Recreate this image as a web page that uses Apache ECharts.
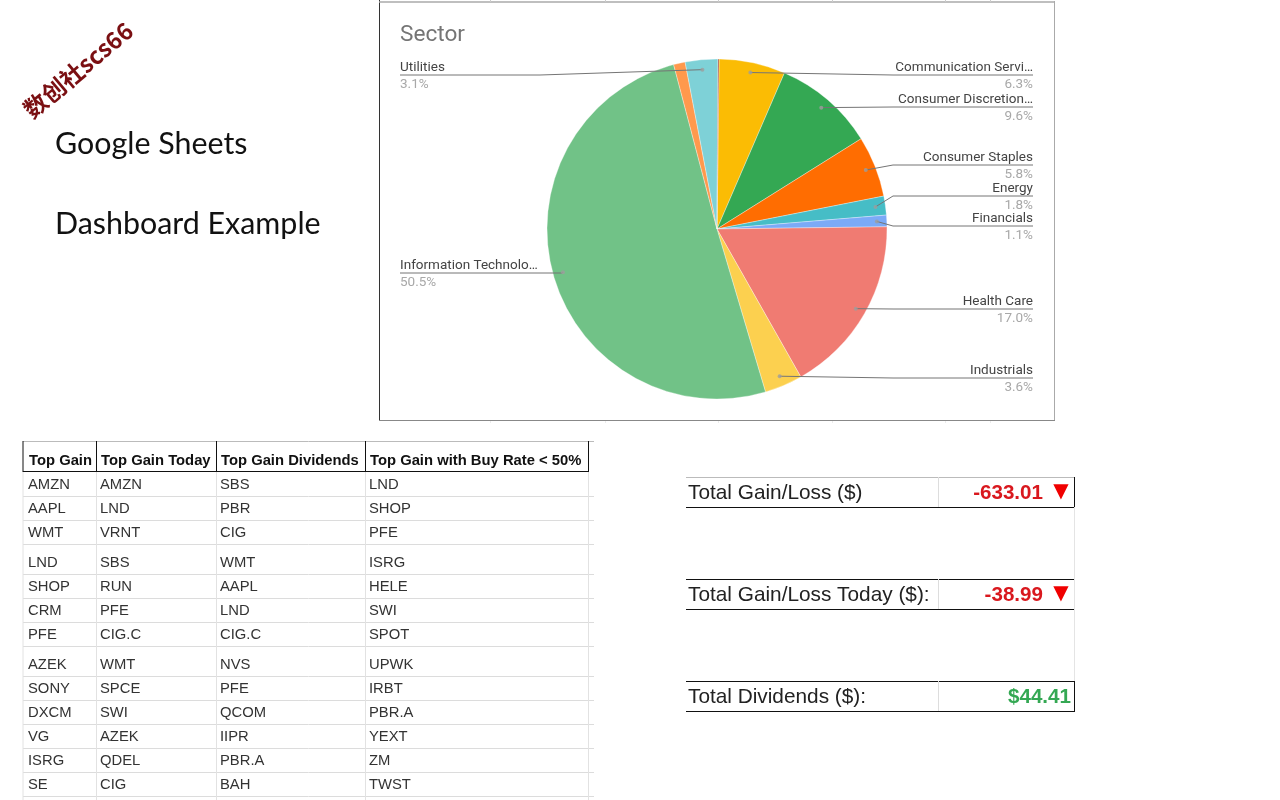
<!DOCTYPE html>
<html><head><meta charset="utf-8">
<style>html,body{margin:0;padding:0;background:#fff}#c{width:1280px;height:800px}</style>
<script src="https://cdn.jsdelivr.net/npm/echarts@6/dist/echarts.min.js"></script>
</head><body><div id="c"></div>
<script>
// ---- data ----
const sectorNames = ['Communication Servi…','Consumer Discretion…','Consumer Staples','Energy','Financials','Health Care','Industrials','Information Technolo…','Materials','Utilities','Real Estate'];
const sectorValues = [6.3,9.6,5.8,1.8,1.1,17.0,3.6,50.5,1.1,3.1,0.1];
const sectorColors = ['#fbbc04','#34a853','#ff6d01','#46bdc6','#7baaf7','#f07b72','#fcd04f','#71c287','#ff994d','#7ed1d7','#a5432c'];
const labelledSectors = [true,true,true,true,true,true,true,true,false,true,false];
const tableHeaders = ['Top Gain','Top Gain Today','Top Gain Dividends','Top Gain with Buy Rate < 50%'];
const colTopGain = ['AMZN','AAPL','WMT','LND','SHOP','CRM','PFE','AZEK','SONY','DXCM','VG','ISRG','SE'];
const colTopToday = ['AMZN','LND','VRNT','SBS','RUN','PFE','CIG.C','WMT','SPCE','SWI','AZEK','QDEL','CIG'];
const colTopDividends = ['SBS','PBR','CIG','WMT','AAPL','LND','CIG.C','NVS','PFE','QCOM','IIPR','PBR.A','BAH'];
const colTopBuyRate = ['LND','SHOP','PFE','ISRG','HELE','SWI','SPOT','UPWK','IRBT','PBR.A','YEXT','ZM','TWST'];
const totalLabels = ['Total Gain/Loss ($)','Total Gain/Loss Today ($):','Total Dividends ($):'];
const totalValues = ['-633.01','-38.99','$44.41'];
const totalArrows = ['▼','▼',''];

// ---- layout ----
const CX=717, CY=229, R=170, DOT_R=160, START=89.3;
const labelLineY = {0:75,1:107,2:165,3:196,4:226,5:309,6:378,7:273,9:75};
const RIGHT_X=1033, LEFT_X=400, ELBOW_R=893, ELBOW_L=540;
const rowCenters=[484,508,532,562,586,610,634,664,688,712,736,760,784];
const rowLines=[496,520,544,574,598,622,646,676,700,724,748,772,796];
const colLines=[23,96.5,216.5,365.5,588.5];
const colText=[28,100,220,369];
const rowTops=[477,579,681];
const frameTicks=[490,605,718,832,945,990];

const total = sectorValues.reduce((a,b)=>a+b,0);
let acc=0;
const mids = sectorValues.map(v=>{const m=acc+v/2;acc+=v;return m;});
const dotPoint = i=>{const a=mids[i]/total*2*Math.PI+(90-START)*Math.PI/180;return [CX+DOT_R*Math.sin(a),CY-DOT_R*Math.cos(a)];};

const g=[];
const line=(x1,y1,x2,y2,c,w)=>g.push({type:'line',silent:true,z:1,shape:{x1,y1,x2,y2},style:{stroke:c,lineWidth:w||1}});
const text=(t,x,y,font,fill,align,extra)=>g.push(Object.assign({type:'text',silent:true,z:5,style:{text:t,x,y,font,fill,align:align||'left',verticalAlign:'middle'}},extra||{}));

// frame of the pasted chart
line(379.5,0,379.5,421,'#333');
line(379,2,1055,2,'#aaa',1.5);
line(1054.5,1,1054.5,421,'#aaa');
line(379,420.5,1055,420.5,'#888');
frameTicks.forEach(x=>{line(x+.5,0,x+.5,2,'#ccc');line(x+.5,421,x+.5,423,'#ececec');});

// left caption
text('Google Sheets',55,144,'30.4px Lato','#111');
text('Dashboard Example',55,224,'30.4px Lato','#111');
g.push({type:'text',silent:true,z:5,x:78,y:70,rotation:40*Math.PI/180,
  style:{text:'数创社scs66',x:0,y:0,font:'bold 23.5px "Noto Sans CJK SC"',fill:'#7a0f12',align:'center',verticalAlign:'middle'}});
text('Sector',400,35,'22.6px Roboto','#757575');

// table
const cols=[colTopGain,colTopToday,colTopDividends,colTopBuyRate];
rowLines.forEach(y=>line(23,y+.5,594,y+.5,'#dcdcdc'));
colLines.forEach(x=>line(x,471,x,800,'#e2e2e2'));
line(23,441.5,594,441.5,'#bbb');
line(23,471.5,589,471.5,'#111');
colLines.forEach(x=>line(x,441,x,472,'#111'));
tableHeaders.forEach((h,i)=>text(h,colText[i]+1,461,'bold 14.8px "Liberation Sans"','#111'));
cols.forEach((col,i)=>col.forEach((v,r)=>text(v,colText[i],rowCenters[r]+1,'14.8px "Liberation Sans"','#333')));

// totals
rowTops.forEach((y,i)=>{
  line(686,y+.5,1075,y+.5,i?'#111':'#bbb');
  line(686,y+30.5,1075,y+30.5,'#111');
  line(938.5,y,938.5,y+30,'#ddd');
  line(1074.5,y,1074.5,y+30,'#111');
  text(totalLabels[i],688,y+16,'20.8px "Liberation Sans"','#222');
  const green=!totalArrows[i];
  text(totalValues[i],green?1071:1043,y+16,'bold 20.6px "Liberation Sans"',green?'#34a853':'#d9181e','right');
  if(totalArrows[i]) text(totalArrows[i],1061,y+15,'20px "DejaVu Sans"','#f00000','center');
});
line(1074.5,507,1074.5,681,'#e4e4e4');

const pieBase = {type:'pie',center:[CX,CY],radius:[0,R],startAngle:START,clockwise:true,avoidLabelOverlap:false,silent:true};
const chart=echarts.init(document.getElementById('c'));
chart.setOption({
  animation:false,backgroundColor:'#fff',
  polar:{center:[CX,CY],radius:[0,R]},
  angleAxis:{show:false,type:'value',min:0,max:total,startAngle:START},
  radiusAxis:{show:false,type:'value',min:0,max:R},
  series:[Object.assign({},pieBase,{
    z:2,
    itemStyle:{borderColor:'rgba(255,255,255,.55)',borderWidth:.6},
    label:{show:false},labelLine:{show:false},
    data:sectorNames.map((n,i)=>({name:n,value:sectorValues[i],itemStyle:{color:sectorColors[i]}}))
  }),Object.assign({},pieBase,{
    // transparent copy that lifts the leader lines above the slices
    z:3,
    itemStyle:{color:'transparent',borderWidth:0},
    data:sectorNames.map((n,i)=>({name:n,value:sectorValues[i],
      label:{show:labelledSectors[i]},labelLine:{show:labelledSectors[i]}})),
    label:{position:'outside',
      formatter:p=>'{n|'+p.name+'}\n{p|'+p.value.toFixed(1)+'%}',
      rich:{n:{fontFamily:'Roboto',fontSize:13.5,color:'#444',lineHeight:17,height:17},
            p:{fontFamily:'Roboto',fontSize:13.5,color:'#a8a8a8',lineHeight:17,height:17}}},
    labelLine:{show:true,lineStyle:{color:'#757575',width:1}},
    labelLayout:p=>{
      const i=p.dataIndex,y=labelLineY[i];
      if(y===undefined) return {};
      const d=dotPoint(i),right=d[0]>CX;
      const endX=right?RIGHT_X:LEFT_X;
      const bendX=right?Math.max(ELBOW_R,d[0]+1):(i===7?d[0]-1:ELBOW_L);
      return {x:endX,y:y+1,align:right?'right':'left',verticalAlign:'middle',
        labelLinePoints:[d,[bendX,y],[endX,y]]};
    }
  }),{
    type:'scatter',coordinateSystem:'polar',silent:true,z:4,symbolSize:4,
    itemStyle:{color:'#9e9e9e'},
    data:sectorValues.map((v,i)=>[DOT_R,mids[i]]).filter((d,i)=>labelledSectors[i])
  }],
  graphic:{elements:g}
});
</script></body></html>
